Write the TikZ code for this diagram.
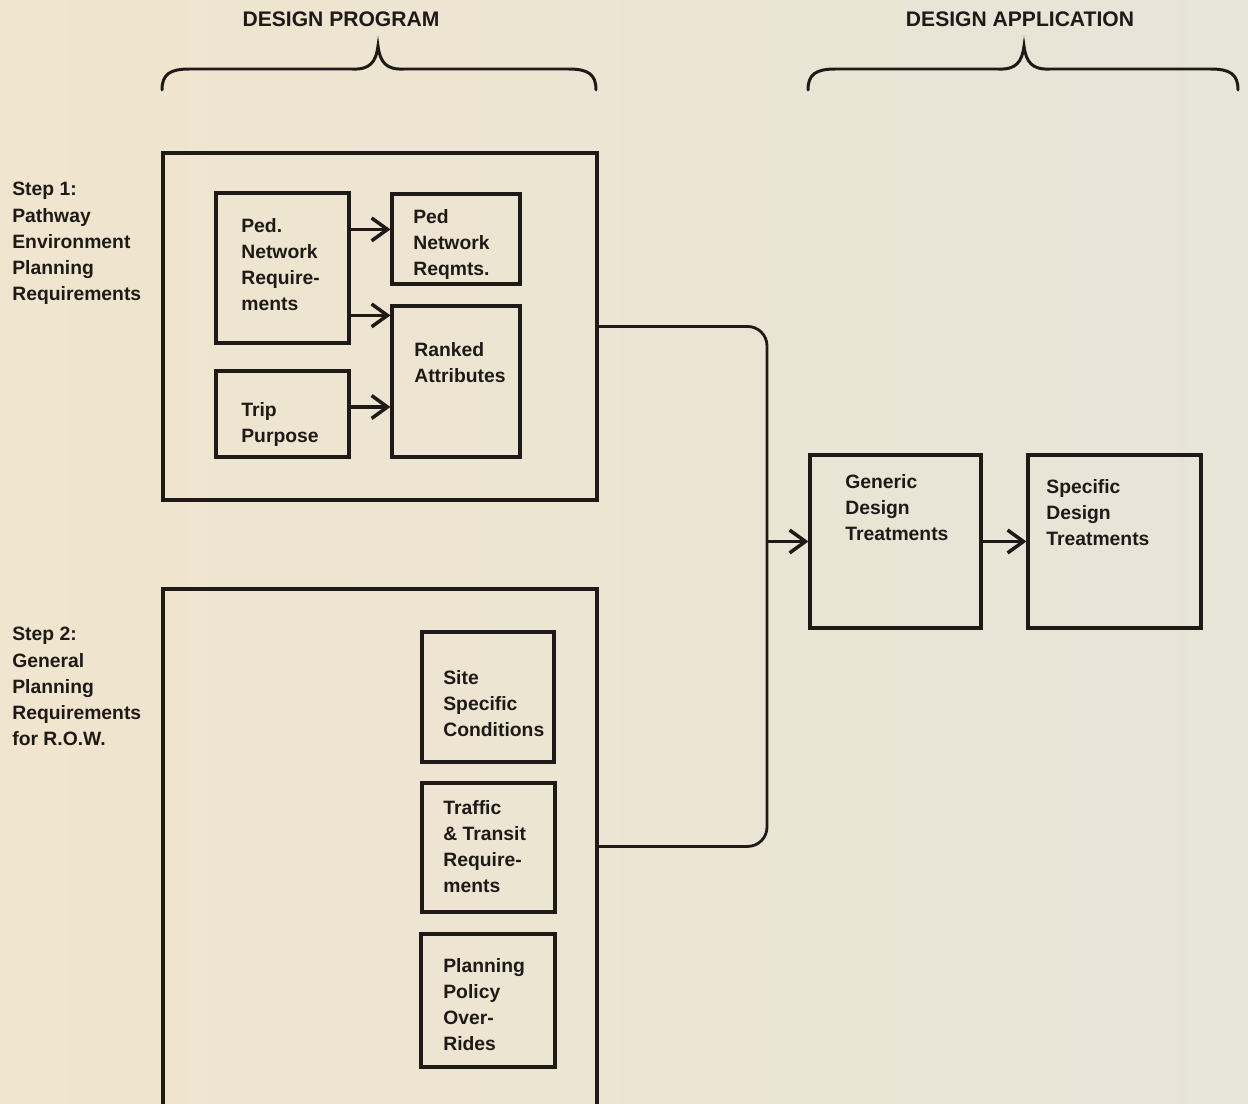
\documentclass[tikz,border=0pt]{standalone}
\usepackage{fontspec}
\setmainfont{Liberation Sans}
\usetikzlibrary{arrows.meta,fit,calc}
\definecolor{bgc}{RGB}{233,227,210}
\definecolor{ink}{RGB}{30,26,23}
\begin{document}
\begin{tikzpicture}[x=0.02cm,y=-0.02cm,
  box/.style={draw=ink,line width=1.8pt,inner sep=0pt},
  txt/.style={anchor=north west,inner sep=0pt,align=left,text=ink,font=\fontsize{11}{14.9}\selectfont\bfseries},
  head/.style={inner sep=0pt,text=ink,font=\fontsize{12}{14}\selectfont\bfseries},
  conn/.style={draw=ink,line width=1.6pt},
  arr/.style={draw=ink,line width=2pt,-{Straight Barb[length=9pt,width=13pt,line width=2pt]}},
  bracestyle/.style={draw=ink,line width=1.7pt,line cap=round}]
\fill[left color={rgb,255:red,240;green,229;blue,206},right color={rgb,255:red,231;green,228;blue,216}] (0,0) rectangle (1248,1104);
\useasboundingbox (0,0) rectangle (1248,1104);

% headings
\node[head] (h1) at (341,19) {DESIGN PROGRAM};
\node[head] (h2) at (1020,19) {DESIGN APPLICATION};

% braces
\draw[bracestyle] (162,90) .. controls (162,74) and (170,69) .. (190,69) -- (352,69)
  .. controls (370,70) and (376,62) .. (378,46)
  .. controls (380,62) and (386,70) .. (404,69) -- (568,69)
  .. controls (588,69) and (596,74) .. (596,90);
\draw[bracestyle] (808,90) .. controls (808,74) and (816,69) .. (836,69) -- (998,69)
  .. controls (1016,70) and (1022,62) .. (1024,46)
  .. controls (1026,62) and (1032,70) .. (1050,69) -- (1210,69)
  .. controls (1230,69) and (1238,74) .. (1238,90);

% step labels
\node[txt] (st1) at (12,182) {Step 1:\\Pathway\\Environment\\Planning\\Requirements};
\node[txt] (st2) at (12,627) {Step 2:\\General\\Planning\\Requirements\\for R.O.W.};

% boxes
\node[box,fit={(163,153) (597,500)}] (s1) {};
\node[box,fit={(216,193) (349,343)}] (pnr) {};
\node[box,fit={(392,194) (520,284)}] (pnr2) {};
\node[box,fit={(392,306) (520,457)}] (rank) {};
\node[box,fit={(216,371) (349,457)}] (trip) {};
\node[box,fit={(163,589) (597,1150)}] (s2) {};
\node[box,fit={(422,632) (554,762)}] (site) {};
\node[box,fit={(422,783) (555,912)}] (traf) {};
\node[box,fit={(421,934) (555,1067)}] (plan) {};
\node[box,fit={(810,455) (981,628)}] (gen) {};
\node[box,fit={(1028,455) (1201,628)}] (spec) {};

% texts
\node[txt] (tpnr) at (241,218) {Ped.\\Network\\Require-\\ments};
\node[txt] (tpnr2) at (413,209) {Ped\\Network\\Reqmts.};
\node[txt] (trank) at (414,342) {Ranked\\Attributes};
\node[txt] (ttrip) at (241,402) {Trip\\Purpose};
\node[txt] (tsite) at (443,670) {Site\\Specific\\Conditions};
\node[txt] (ttraf) at (443,800) {Traffic\\\& Transit\\Require-\\ments};
\node[txt] (tplan) at (443,958) {Planning\\Policy\\Over-\\Rides};
\node[txt] (tgen) at (845,474) {Generic\\Design\\Treatments};
\node[txt] (tspec) at (1046,479) {Specific\\Design\\Treatments};

% arrows in step 1
\draw[arr] ($(pnr.north east)+(0,38)$) coordinate (a1) -- (a1 -| pnr2.west);
\draw[arr] ($(pnr.north east)+(0,124)$) coordinate (a2) -- (a2 -| rank.west);
\draw[arr] ($(trip.east)+(0,-7)$) coordinate (a3) -- (a3 -| rank.west);

% main connector
\coordinate (jx) at (767,545);
\coordinate (s2c) at ($(s2.north east)+(0,259)$);
\draw[conn,rounded corners=11pt] (s1.east) -- (jx |- s1.east) -- (jx |- s2c) -- (s2c);
\draw[arr,line width=1.6pt] (jx |- gen.west) -- (gen.west);
\draw[arr] (gen.east) -- (spec.west);
\end{tikzpicture}
\end{document}
